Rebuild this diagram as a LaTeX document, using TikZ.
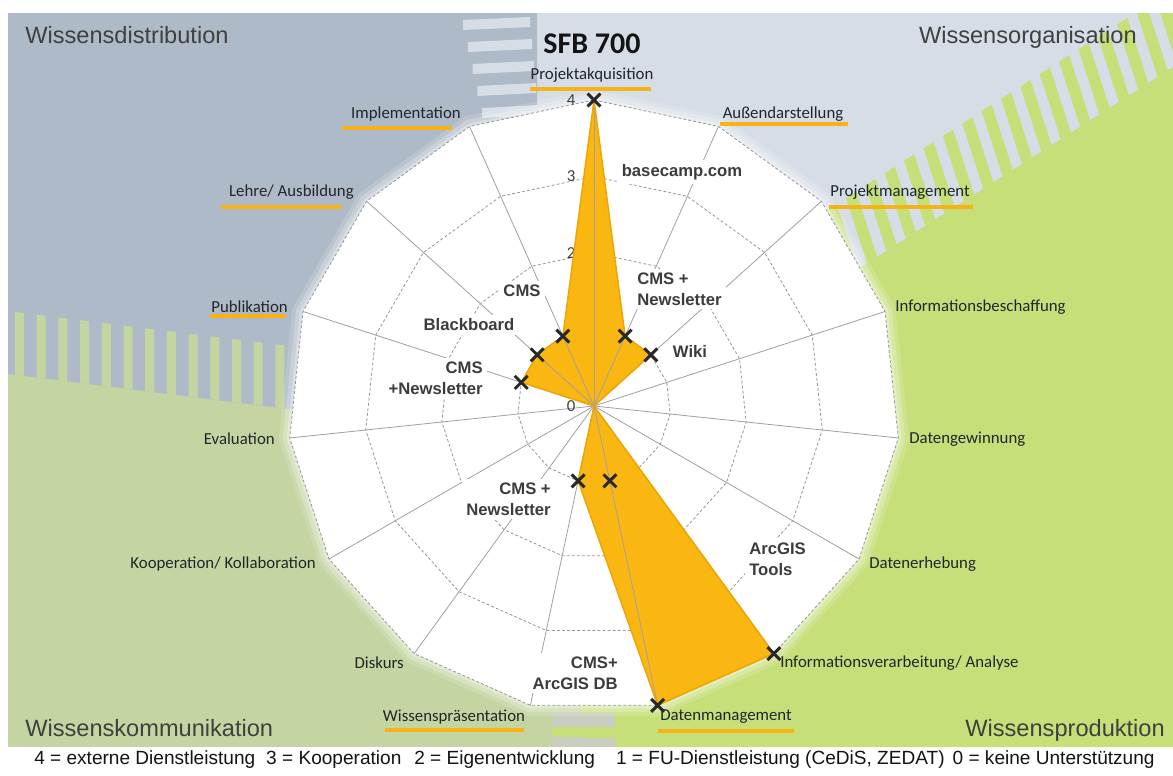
\documentclass[tikz,border=0pt]{standalone}
\usepackage{fontspec}
\setmainfont{Carlito}
\newfontfamily\arialfont{Liberation Sans}
\usetikzlibrary{shapes.misc}

\begin{document}
\begin{tikzpicture}[x=0.75pt,y=0.75pt,yscale=-1,xscale=1,
  btl/.style={fill={rgb, 255:red, 174; green, 186; blue, 199 }},
  btr/.style={fill={rgb, 255:red, 214; green, 221; blue, 230 }},
  bbr/.style={fill={rgb, 255:red, 198; green, 223; blue, 120 }},
  bbl/.style={fill={rgb, 255:red, 196; green, 213; blue, 161 }},
  bgray/.style={fill={rgb, 255:red, 202; green, 206; blue, 192 }},
  ring/.style={draw={rgb, 255:red, 150; green, 150; blue, 150 }, dash pattern=on 2.2pt off 1.6pt, line width=0.6pt},
  spoke/.style={draw={rgb, 255:red, 160; green, 160; blue, 160 }, line width=0.6pt},
  datafill/.style={fill={rgb, 255:red, 250; green, 183; blue, 18 }, draw={rgb, 255:red, 238; green, 165; blue, 0 }, line width=1.1pt, line join=round},
  xmark/.style={cross out, draw={rgb, 255:red, 40; green, 40; blue, 40 }, line width=2.2pt, minimum size=7.5pt, inner sep=0pt},
  cat/.style={inner sep=0pt, text={rgb, 255:red, 35; green, 37; blue, 42 }, font=\fontsize{12.6}{15}\selectfont},
  num/.style={inner sep=0pt, text={rgb, 255:red, 64; green, 64; blue, 64 }, font=\fontsize{12.6}{15}\selectfont},
  uline/.style={draw={rgb, 255:red, 247; green, 178; blue, 23 }, line width=3pt},
  tool/.style={fill=white, inner sep=3pt, text={rgb, 255:red, 60; green, 60; blue, 60 }, font=\arialfont\bfseries\fontsize{12.5}{15.75}\selectfont},
  field/.style={inner sep=0pt, text={rgb, 255:red, 64; green, 64; blue, 64 }, font=\arialfont\fontsize{17.7}{21}\selectfont},
  head/.style={inner sep=0pt, text={rgb, 255:red, 20; green, 20; blue, 20 }, font=\bfseries\fontsize{22.5}{26}\selectfont},
  legendtext/.style={inner sep=0pt, text={rgb, 255:red, 20; green, 20; blue, 20 }, font=\arialfont\fontsize{14.3}{17}\selectfont}]
\useasboundingbox (0,0) rectangle (1173,775);
\fill[white] (0,0) rectangle (1173,775);
\fill[bbl] (8,13) rectangle (1173,747);
\fill[bbr] (1173,67) -- (1173,747) -- (580,747) -- (580,560) -- (594,406) -- (700,370) -- cycle;
\fill[btr] (537,13) -- (1173,13) -- (1173,67) -- (700,370) -- (594,406) -- (537,120) -- cycle;
\fill[btl] (8,13) -- (537,13) -- (537,120) -- (594,406) -- (320,413) -- (8,374) -- cycle;
\foreach \i in {0,...,4}
  \fill[btr] ({463+4.75*\i},{20+22*\i}) -- ({530+2*\i},{17+22*\i}) -- ({530+2*\i},{27+22*\i}) -- ({463+4.75*\i},{30+22*\i}) -- cycle;
\begin{scope}
\clip (8,13) rectangle (1173,747);
\begin{scope}[shift={(867,263)}, rotate=-32.63]
\foreach \k in {-3,...,17}
  \fill[bbr] ({23*\k+17.4},-66) -- ({23*\k+29.4},-66) -- ({23*\k+12},0) -- ({23*\k},0) -- cycle;
\end{scope}
\end{scope}
\foreach \k in {0,...,13}
  \fill[bbl] ({15+21.7*\k},{312+2.7*\k}) -- ({24+21.7*\k},{313.1+2.7*\k}) -- ({24+21.7*\k},{376.1+2.7*\k}) -- ({15+21.7*\k},{375+2.7*\k}) -- cycle;
\fill[bgray] (552,713) rectangle (615,727);
\fill[bbr] (552,727) rectangle (615,736);
\fill[bgray] (552,738) rectangle (615,747);

\begin{scope}[shift={(594,406)}]
\coordinate (c) at (0,0);
\foreach \i in {0,...,14} \coordinate (v\i) at ({24*\i-90}:306);
\foreach \i/\v in {0/4,1/1,2/1,3/0,4/0,5/0,6/4,7/4,8/1,9/0,10/0,11/0,12/1,13/1,14/1} \coordinate (p\i) at ({24*\i-90}:{76.5*\v});
\foreach \rad/\op in {317/0.15,313/0.22,309/0.3} \fill[white, opacity=\op] (-90:\rad) \foreach \i in {1,...,14}{ -- ({24*\i-90}:\rad)} -- cycle;
\fill[white] (v0) \foreach \i in {1,...,14}{ -- (v\i)} -- cycle;
\foreach \k in {1,...,4} \draw[ring] (-90:{76.5*\k}) \foreach \i in {1,...,14}{ -- ({24*\i-90}:{76.5*\k})} -- cycle;
\end{scope}
\foreach \i in {0,...,14} \draw[spoke] (c) -- (v\i);
\foreach \k in {0,...,4} \node[num] (n\k) at (571,{406-76.5*\k}) {\k};

\node[tool] (basecamp) at (682,172) {basecamp.com};
\node[tool, align=left, anchor=west] (cmsa) at (633,289) {CMS +\\Newsletter};
\node[tool] (wiki) at (690,351) {Wiki};
\node[tool] (cmsb) at (522,291) {CMS};
\node[tool] (blackb) at (469,325) {Blackboard};
\node[tool, align=right, anchor=east] (cmsc) at (487,378) {CMS\\+Newsletter};
\node[tool, align=right, anchor=east] (cmsd) at (555,499) {CMS +\\Newsletter};
\node[tool, align=right, anchor=east] (cmse) at (622,673) {CMS+\\ArcGIS DB};
\node[tool, align=left, anchor=west] (arcgis) at (745,559) {ArcGIS\\Tools};

\fill[datafill, draw=none] (p0) \foreach \i in {1,...,14}{ -- (p\i)} -- cycle;
\begin{scope}
\clip (p0) \foreach \i in {1,...,14}{ -- (p\i)} -- cycle;
\foreach \i in {0,...,14} \draw[spoke] (c) -- (v\i);
\end{scope}
\draw[datafill, fill=none] (p0) \foreach \i in {1,...,14}{ -- (p\i)} -- cycle;
\foreach \i/\v in {0/4,1/1,2/1,6/4,7/4,7/1,8/1,12/1,13/1,14/1}
  \node[xmark] (m\i-\v) at ([shift={({24*\i-90}:{76.5*\v})}]c) {};

\node[cat] (akq) at (592,75) {Projektakquisition};
\node[cat] (aussen) at (783,114) {Außendarstellung};
\node[cat] (projm) at (900,192) {Projektmanagement};
\node[cat, anchor=west] (infob) at (895,307) {Informationsbeschaffung};
\node[cat, anchor=west] (datgew) at (909,439) {Datengewinnung};
\node[cat, anchor=west] (daterh) at (869,564) {Datenerhebung};
\node[cat, anchor=west] (infov) at (780,663) {Informationsverarbeitung/ Analyse};
\node[cat] (datman) at (726,717) {Datenmanagement};
\node[cat] (wpraes) at (454,717) {Wissenspräsentation};
\node[cat, anchor=east] (disk) at (404,663) {Diskurs};
\node[cat, anchor=east] (koop) at (316,564) {Kooperation/ Kollaboration};
\node[cat, anchor=east] (eval) at (275,439) {Evaluation};
\node[cat, anchor=east] (publ) at (288,307) {Publikation};
\node[cat, anchor=east] (lehre) at (354,192) {Lehre/ Ausbildung};
\node[cat, anchor=east] (impl) at (461,114) {Implementation};
\draw[uline] (530,89) -- (651,89);
\draw[uline] (720,124) -- (848,124);
\draw[uline] (829,207) -- (973,207);
\draw[uline] (658,731) -- (794,731);
\draw[uline] (385,730) -- (524,730);
\draw[uline] (210,316) -- (286,316);
\draw[uline] (221,207) -- (342,207);
\draw[uline] (342,128) -- (452,128);

\node[head, anchor=base] (sfb) at (592,53) {SFB 700};
\node[field, anchor=base west] (distr) at (25,43.5) {Wissensdistribution};
\node[field, anchor=base east] (organ) at (1137,43.5) {Wissensorganisation};
\node[field, anchor=base west] (kommu) at (25,736.5) {Wissenskommunikation};
\node[field, anchor=base east] (produ) at (1165,736.5) {Wissensproduktion};
\node[legendtext, anchor=base west] (legend) at (34,764) {4 = externe Dienstleistung\hspace{8.25pt}3 = Kooperation\hspace{9.75pt}2 = Eigenentwicklung\hspace{15.75pt}1 = FU-Dienstleistung (CeDiS, ZEDAT)\hspace{6pt}0 = keine Unterstützung};
\end{tikzpicture}
\end{document}
